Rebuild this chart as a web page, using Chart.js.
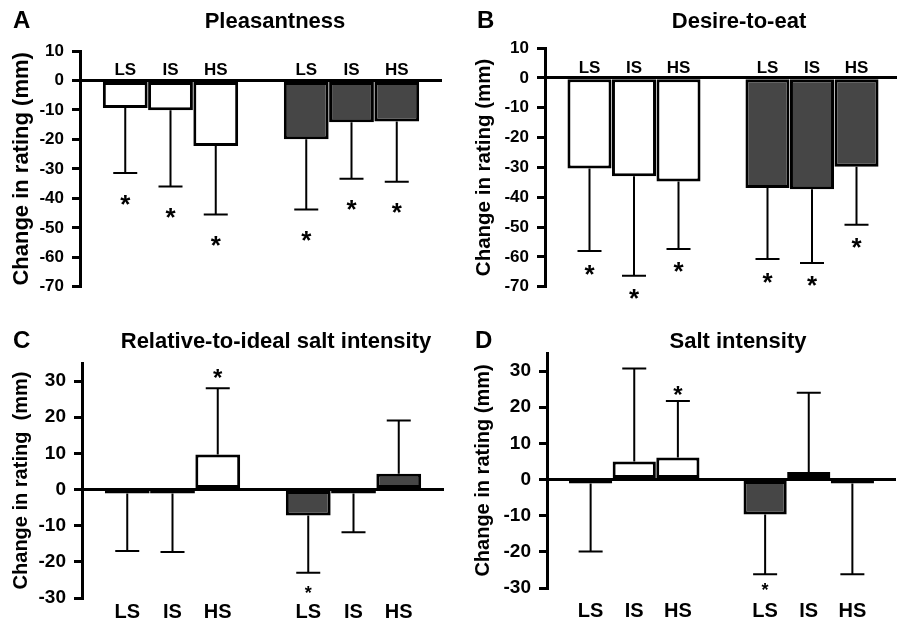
<!DOCTYPE html>
<html>
<head>
<meta charset="utf-8">
<script src="https://cdn.jsdelivr.net/npm/chart.js@4.4.0/dist/chart.umd.min.js"></script>
<style>
html, body { margin: 0; padding: 0; background: #fff; width: 897px; height: 620px; overflow: hidden; position: relative; }
canvas { position: absolute; }
</style>
</head>
<body>
<canvas id="chartA" width="448" height="305" style="left:0;top:0"></canvas>
<canvas id="chartB" width="460" height="305" style="left:447px;top:0"></canvas>
<canvas id="chartC" width="448" height="315" style="left:0;top:305px"></canvas>
<canvas id="chartD" width="460" height="315" style="left:447px;top:305px"></canvas>
<script>
// salt levels, shown for both groups (white bars, then dark bars)
const levels = ['LS', 'IS', 'HS'];

// y tick labels
const ticksTop = [-70, -60, -50, -40, -30, -20, -10, 0, 10];
const ticksBottom = [-30, -20, -10, 0, 10, 20, 30];

// A - Pleasantness
const pleasWhite = [-9.3, -10.1, -22.2];
const pleasDark = [-19.9, -14.2, -13.9];
const pleasWhiteSd = [22.1, 25.9, 23.3];
const pleasDarkSd = [23.9, 19.1, 20.5];
const pleasStars = [1, 1, 1, 1, 1, 1];

// B - Desire-to-eat
const desireWhite = [-30.4, -33.0, -34.7];
const desireDark = [-36.9, -37.3, -29.8];
const desireWhiteSd = [27.6, 33.3, 22.6];
const desireDarkSd = [23.8, 24.7, 19.4];
const desireStars = [1, 1, 1, 1, 1, 1];

// C - Relative-to-ideal salt intensity
const idealWhite = [-0.3, -0.5, 9.7];
const idealDark = [-7.2, -0.8, 4.4];
const idealWhiteSd = [16.7, 16.8, 18.3];
const idealDarkSd = [15.8, 11.0, 14.7];
const idealStars = [0, 0, 1, 1, 0, 0];

// D - Salt intensity
const saltWhite = [-0.5, 5.0, 6.1];
const saltDark = [-9.7, 2.1, -0.5];
const saltWhiteSd = [19.4, 25.7, 15.6];
const saltDarkSd = [16.5, 21.9, 25.7];
const saltStars = [0, 0, 1, 1, 0, 0];

const FONT = "'Liberation Sans', Arial, sans-serif";
const WHITE = '#ffffff';
const DARK = '#464646';

// empty slot at each end and between the two groups
function spread(a, b) {
    return [null, ...a, null, ...b, null];
}
const slotLabels = spread(levels, levels);
const slotColors = spread(levels.map(() => WHITE), levels.map(() => DARK));

// ========== plugins ==========
const errorBars = {
    id: 'errorBars',
    afterDatasetsDraw(chart, args, opts) {
        const ctx = chart.ctx;
        const y = chart.scales.y;
        const values = chart.data.datasets[0].data;
        const meta = chart.getDatasetMeta(0);
        ctx.save();
        ctx.strokeStyle = '#000';
        ctx.fillStyle = '#000';
        ctx.lineWidth = 2;
        meta.data.forEach((bar, i) => {
            const v = values[i];
            if (v == null) return;
            const dir = v < 0 ? -1 : 1;
            const tip = y.getPixelForValue(v + dir * opts.sd[i]);
            ctx.beginPath();
            ctx.moveTo(bar.x, bar.y);
            ctx.lineTo(bar.x, tip);
            ctx.moveTo(bar.x - 12, tip);
            ctx.lineTo(bar.x + 12, tip);
            ctx.stroke();
            if (opts.stars[i]) {
                const size = opts.starSize[i] || 26;
                const centre = tip - dir * opts.starGap;
                ctx.font = 'bold ' + size + 'px ' + FONT;
                ctx.textAlign = 'center';
                ctx.textBaseline = 'alphabetic';
                ctx.fillText('*', bar.x, centre + size * 0.56);
            }
        });
        ctx.restore();
    }
};

const topLabels = {
    id: 'topLabels',
    afterDatasetsDraw(chart, args, opts) {
        if (!opts.show) return;
        const ctx = chart.ctx;
        const zero = chart.scales.y.getPixelForValue(0);
        const meta = chart.getDatasetMeta(0);
        ctx.save();
        ctx.fillStyle = '#000';
        ctx.font = 'bold 17px ' + FONT;
        ctx.textAlign = 'center';
        ctx.textBaseline = 'alphabetic';
        meta.data.forEach((bar, i) => {
            if (!slotLabels[i]) return;
            ctx.fillText(slotLabels[i], bar.x, zero - 5);
        });
        ctx.restore();
    }
};

const panelText = {
    id: 'panelText',
    afterDraw(chart, args, opts) {
        const ctx = chart.ctx;
        ctx.save();
        ctx.fillStyle = '#000';
        ctx.textBaseline = 'alphabetic';
        ctx.font = 'bold 24px ' + FONT;
        ctx.textAlign = 'left';
        ctx.fillText(opts.letter, opts.letterX, opts.baseline);
        ctx.font = 'bold 22px ' + FONT;
        ctx.textAlign = 'center';
        ctx.fillText(opts.title, opts.titleX, opts.baseline);
        ctx.restore();
    }
};

// ========== charts ==========
function criarPainel(id, cfg) {
    const ctx = document.getElementById(id).getContext('2d');
    return new Chart(ctx, {
        type: 'bar',
        data: {
            labels: slotLabels.map(l => l || ''),
            datasets: [{
                data: spread(cfg.white, cfg.dark),
                backgroundColor: slotColors,
                borderColor: '#000',
                borderWidth: 3,
                borderSkipped: false,
                minBarLength: 4,
                categoryPercentage: 1,
                barPercentage: 0.99
            }]
        },
        plugins: [errorBars, topLabels, panelText],
        options: {
            responsive: false,
            animation: false,
            layout: { padding: cfg.padding },
            plugins: {
                legend: { display: false },
                tooltip: { enabled: false },
                errorBars: {
                    sd: spread(cfg.whiteSd, cfg.darkSd),
                    stars: spread(cfg.stars.slice(0, 3), cfg.stars.slice(3)),
                    starSize: spread(cfg.starSize.slice(0, 3), cfg.starSize.slice(3)),
                    starGap: cfg.starGap
                },
                topLabels: { show: cfg.labelsOnTop },
                panelText: cfg.text
            },
            scales: {
                x: {
                    display: !cfg.labelsOnTop,
                    offset: false,
                    grid: { display: false, drawTicks: false },
                    border: { display: false },
                    ticks: {
                        color: '#000',
                        font: { family: FONT, size: 20, weight: 'bold' },
                        padding: cfg.xPad,
                        maxRotation: 0,
                        autoSkip: false
                    },
                    afterFit: s => { s.height = cfg.xHeight; }
                },
                y: {
                    min: cfg.min,
                    max: cfg.max,
                    afterBuildTicks: s => { s.ticks = cfg.ticks.map(v => ({ value: v })); },
                    ticks: {
                        color: '#000',
                        padding: 8,
                        font: { family: FONT, size: cfg.tickSize, weight: 'bold' }
                    },
                    grid: {
                        color: c => c.tick && c.tick.value === 0 ? '#000' : 'rgba(0,0,0,0)',
                        lineWidth: 3,
                        tickColor: '#000',
                        tickWidth: 3,
                        tickLength: 8
                    },
                    border: { display: true, color: '#000', width: 3 },
                    title: {
                        display: true,
                        text: cfg.yTitle,
                        color: '#000',
                        font: { family: FONT, size: cfg.yTitleSize, weight: 'bold' },
                        padding: { top: cfg.titlePad, bottom: 0 }
                    },
                    afterFit: s => { s.width = cfg.yWidth; }
                }
            }
        }
    });
}

criarPainel('chartA', {
    white: pleasWhite, dark: pleasDark, whiteSd: pleasWhiteSd, darkSd: pleasDarkSd,
    stars: pleasStars, starSize: [26, 26, 26, 26, 26, 26], starGap: 25,
    min: -70, max: 10, ticks: ticksTop, tickSize: 17, labelsOnTop: true,
    padding: { top: 51, right: 6, bottom: 16, left: 0 }, yWidth: 80, xHeight: 0, xPad: 0,
    yTitle: 'Change in rating (mm)', yTitleSize: 22, titlePad: 9,
    text: { letter: 'A', letterX: 13, title: 'Pleasantness', titleX: 275, baseline: 28 }
});

criarPainel('chartB', {
    white: desireWhite, dark: desireDark, whiteSd: desireWhiteSd, darkSd: desireDarkSd,
    stars: desireStars, starSize: [26, 26, 26, 26, 26, 26], starGap: 17,
    min: -70, max: 10, ticks: ticksTop, tickSize: 17, labelsOnTop: true,
    padding: { top: 48, right: 6, bottom: 17, left: 0 }, yWidth: 98, xHeight: 0, xPad: 0,
    yTitle: 'Change in rating (mm)', yTitleSize: 20.5, titlePad: 25,
    text: { letter: 'B', letterX: 30, title: 'Desire-to-eat', titleX: 292, baseline: 28 }
});

criarPainel('chartC', {
    white: idealWhite, dark: idealDark, whiteSd: idealWhiteSd, darkSd: idealDarkSd,
    stars: idealStars, starSize: [24, 24, 24, 18, 18, 18], starGap: 16,
    min: -30, max: 35, ticks: ticksBottom, tickSize: 19, labelsOnTop: false,
    padding: { top: 58, right: 4, bottom: 0, left: 0 }, yWidth: 82, xHeight: 22, xPad: 2,
    yTitle: 'Change in rating  (mm)', yTitleSize: 20, titlePad: 9,
    text: { letter: 'C', letterX: 13, title: 'Relative-to-ideal salt intensity', titleX: 276, baseline: 43 }
});

criarPainel('chartD', {
    white: saltWhite, dark: saltDark, whiteSd: saltWhiteSd, darkSd: saltDarkSd,
    stars: saltStars, starSize: [24, 24, 24, 18, 18, 18], starGap: 12,
    min: -30, max: 35, ticks: ticksBottom, tickSize: 19, labelsOnTop: false,
    padding: { top: 48, right: 4, bottom: 0, left: 0 }, yWidth: 100, xHeight: 32, xPad: 11,
    yTitle: 'Change in rating (mm)', yTitleSize: 20, titlePad: 24,
    text: { letter: 'D', letterX: 28, title: 'Salt intensity', titleX: 291, baseline: 43 }
});
</script>
</body>
</html>
